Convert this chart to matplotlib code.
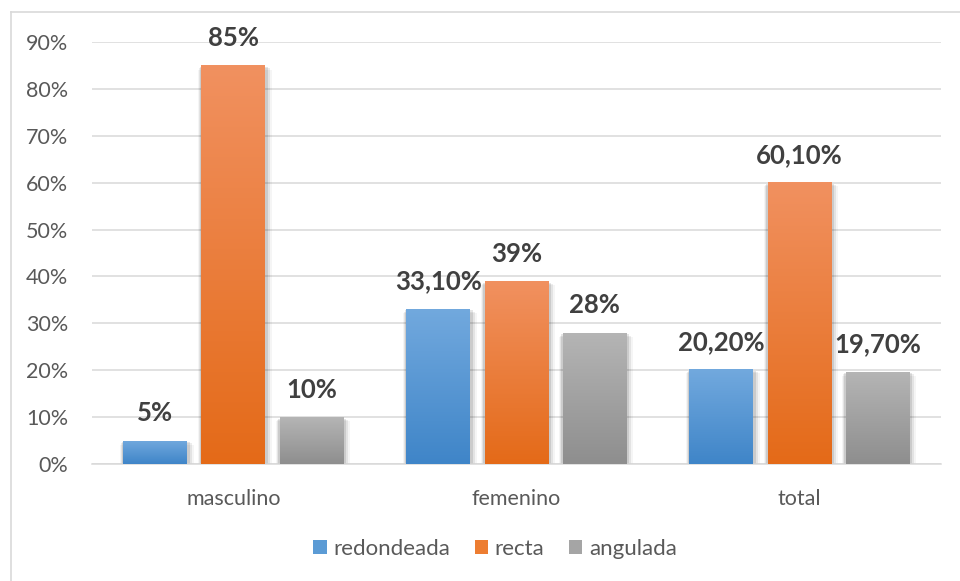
import numpy as np
import matplotlib
matplotlib.use("Agg")
import matplotlib.pyplot as plt
from matplotlib.colors import LinearSegmentedColormap
from matplotlib.lines import Line2D
from matplotlib.patches import Patch

categories = ["masculino", "femenino", "total"]
series_names = ["redondeada", "recta", "angulada"]
redondeada = [5.0, 33.1, 20.2]
recta = [85.0, 39.0, 60.1]
angulada = [10.0, 28.0, 19.7]
labels = [["5%", "33,10%", "20,20%"],
          ["85%", "39%", "60,10%"],
          ["10%", "28%", "19,70%"]]
yticks = [0, 10, 20, 30, 40, 50, 60, 70, 80, 90]

grad_colors = [("#72a9de", "#3f85c8"),
               ("#f19160", "#e46a18"),
               ("#b5b5b5", "#8e8e8e")]
legend_colors = ["#5b9bd5", "#ed7d31", "#a5a5a5"]

plt.rcParams['font.family'] = ['Lato', 'DejaVu Sans']

fig = plt.figure(figsize=(9.6, 5.81), dpi=100)
ax = fig.add_axes([0.0958, 0.2014, 0.9802 - 0.0958, 0.9277 - 0.2014])

# border lines
fig.add_artist(Line2D([11/960, 1], [1 - 12/581, 1 - 12/581], color="#d9d9d9", lw=1.2, transform=fig.transFigure))
fig.add_artist(Line2D([11/960, 11/960], [0, 1 - 12/581], color="#d9d9d9", lw=1.2, transform=fig.transFigure))

x = np.arange(len(categories))
width = 0.226
offset = 0.276
data = [redondeada, recta, angulada]

ax.set_xlim(-0.5, 2.5)
ax.set_ylim(0, 90)

for i, (vals, (ctop, cbot)) in enumerate(zip(data, grad_colors)):
    cmap = LinearSegmentedColormap.from_list("g%d" % i, [cbot, ctop])
    pos = x + (i - 1) * offset
    bars = ax.bar(pos, vals, width, color="none", zorder=3)
    for b, v, lab in zip(bars, vals, labels[i]):
        bx, by = b.get_x(), b.get_y()
        bw, bh = b.get_width(), b.get_height()
        # shadow
        for k, a in enumerate([0.10, 0.07, 0.04]):
            d = 0.006 * (k + 1)
            ax.bar(bx + bw / 2 + d * 0.3, bh, bw + 2 * d, bottom=-0.3 * (k + 1),
                   color="black", alpha=a, zorder=2, lw=0)
        grad = np.linspace(0, 1, 256).reshape(-1, 1)
        im = ax.imshow(grad, cmap=cmap, origin="lower", aspect="auto",
                       extent=[bx, bx + bw, by, by + bh], zorder=3.5)
        im.set_clip_path(b)
        ax.annotate(lab, (bx + bw / 2, v), xytext=(0, 11), textcoords="offset points",
                    ha="center", va="bottom", fontsize=18.5, fontweight="bold",
                    color="#404040", zorder=5)

ax.set_xlim(-0.5, 2.5)
ax.set_ylim(0, 90)
ax.set_yticks(yticks)
ax.set_yticklabels(["%d%%" % t for t in yticks])
ax.set_xticks(x)
ax.set_xticklabels(categories)
ax.grid(axis="y", color="#d9d9d9", lw=1.1, zorder=0)
ax.set_axisbelow(True)
for s in ["top", "right", "left"]:
    ax.spines[s].set_visible(False)
ax.spines["bottom"].set_color("#d9d9d9")
ax.spines["bottom"].set_linewidth(1.1)
ax.tick_params(axis="both", length=0, labelsize=15.5, labelcolor="#595959")
ax.tick_params(axis="y", pad=17)
ax.tick_params(axis="x", pad=18)

handles = [Patch(facecolor=c, edgecolor="none") for c in legend_colors]
fig.legend(handles, series_names, loc="center", bbox_to_anchor=(0.5156, 1 - 549/581),
           ncol=3, frameon=False, fontsize=16, handlelength=0.6, handleheight=0.6,
           handletextpad=0.3, columnspacing=1.1, labelcolor="#595959")

fig.savefig("out.png", dpi=100)
